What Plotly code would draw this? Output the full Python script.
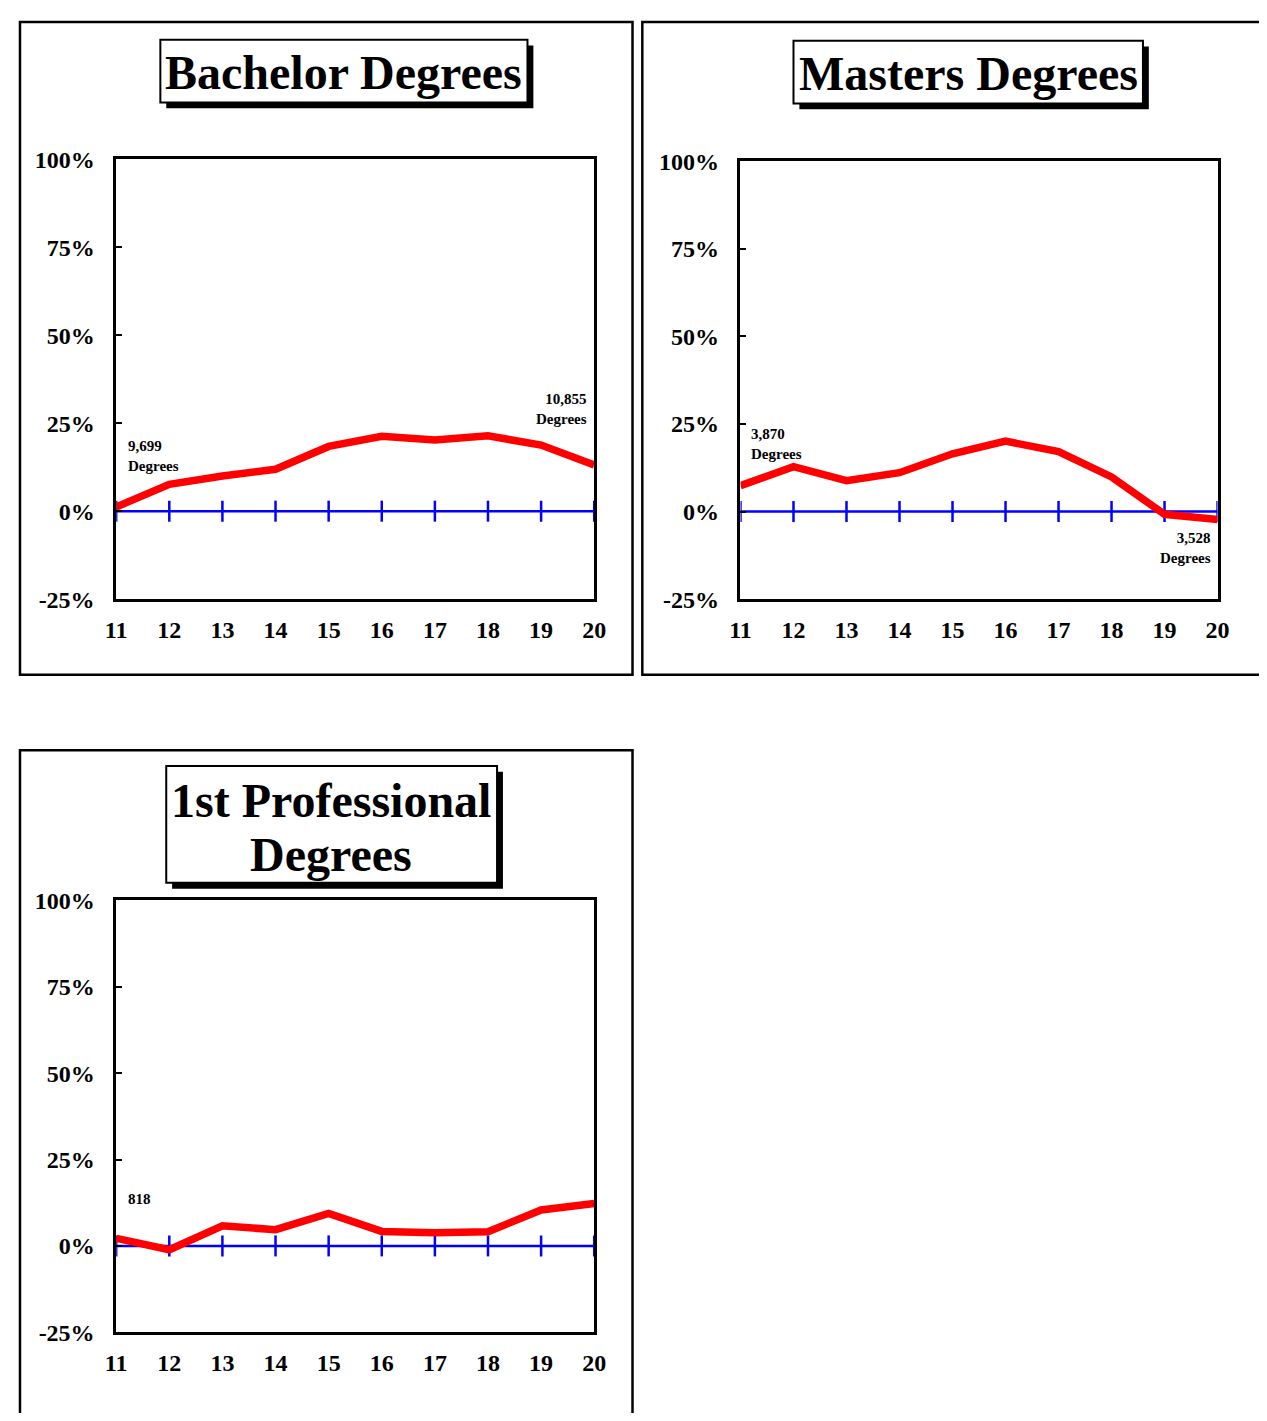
import plotly.graph_objects as go

# the page body has an 8px margin; the figure is shifted so positions match the window
PAGE_W, PAGE_H = 1267, 1421
OX, OY = 8, 8
W, H = PAGE_W - 2 * OX, PAGE_H - 2 * OY

years = [11, 12, 13, 14, 15, 16, 17, 18, 19, 20]
bachelor = [1.2, 7.6, 10.0, 11.9, 18.4, 21.3, 20.2, 21.4, 18.8, 13.1]
masters = [7.4, 12.8, 8.8, 11.1, 16.5, 20.1, 17.1, 9.9, -0.8, -2.3]
professional = [2.2, -1.1, 5.8, 4.7, 9.4, 4.2, 3.8, 4.1, 10.4, 12.3]
zero_line = [0] * len(years)

y_ticks = [-25, 0, 25, 50, 75, 100]
y_tick_labels = ["-25%", "0%", "25%", "50%", "75%", "100%"]

titles = ["Bachelor Degrees", "Masters Degrees", "1st Professional", "Degrees"]
notes = ["9,699<br>Degrees", "10,855<br>Degrees", "3,870<br>Degrees", "3,528<br>Degrees", "818"]

FONT = "Liberation Serif, Times New Roman, serif"
RED = "#FF0000"
BLUE = "#0000FF"


def px(x):
    return (x - OX) / W


def py(y):
    return 1 - (y - OY) / H


fig = go.Figure()

series = [bachelor, masters, professional]
for i, vals in enumerate(series):
    suffix = "" if i == 0 else str(i + 1)
    fig.add_trace(go.Scatter(
        x=years, y=zero_line, mode="lines+markers",
        line=dict(color=BLUE, width=2.5),
        marker=dict(symbol="line-ns", size=15, line=dict(color=BLUE, width=2.5)),
        xaxis="x" + suffix, yaxis="y" + suffix, hoverinfo="skip",
    ))
    fig.add_trace(go.Scatter(
        x=years, y=vals, mode="lines",
        line=dict(color=RED, width=7.5),
        xaxis="x" + suffix, yaxis="y" + suffix,
    ))

# plot area pixel boxes (left, top, right, bottom)
areas = [(107, 149, 594, 597), (743, 151, 1229, 597), (107, 904, 594, 1344)]

layout_axes = {}
for i, (l, t, r, b) in enumerate(areas):
    suffix = "" if i == 0 else str(i + 1)
    layout_axes["xaxis" + suffix] = dict(
        domain=[px(l), px(r)], anchor="y" + suffix, range=[11, 20],
        tickvals=years, ticktext=[str(v) for v in years],
        showline=True, mirror=True, linecolor="black", linewidth=2.5,
        showgrid=False, zeroline=False, ticks="",
        ticklabelstandoff=7,
        tickfont=dict(family=FONT, size=24, color="black", weight="bold"),
    )
    layout_axes["yaxis" + suffix] = dict(
        domain=[py(b), py(t)], anchor="x" + suffix, range=[-25, 100],
        tickvals=y_ticks, ticktext=y_tick_labels,
        showline=True, mirror=True, linecolor="black", linewidth=2.5,
        showgrid=False, zeroline=False, ticks="inside", ticklen=6,
        tickwidth=2, tickcolor="black", ticklabelstandoff=14,
        tickfont=dict(family=FONT, size=24, color="black", weight="bold"),
    )

shapes = []
# outer panel frames
for (x0, y0, x1, y1) in [(9, 9, 633, 674), (643, 9, 1290, 674), (9, 751, 633, 1440)]:
    shapes.append(dict(type="rect", xref="paper", yref="paper",
                       x0=px(x0), x1=px(x1), y0=py(y1), y1=py(y0),
                       line=dict(color="black", width=2.5), fillcolor="rgba(0,0,0,0)",
                       layer="below"))
# title boxes with drop shadow
title_boxes = [(152, 27, 526, 91), (797, 28, 1153, 92), (158, 767, 495, 886)]
for (x0, y0, x1, y1) in title_boxes:
    shapes.append(dict(type="rect", xref="paper", yref="paper",
                       x0=px(x0 + 6), x1=px(x1 + 6), y0=py(y1 + 6), y1=py(y0 + 6),
                       line=dict(width=0), fillcolor="black"))
    shapes.append(dict(type="rect", xref="paper", yref="paper",
                       x0=px(x0), x1=px(x1), y0=py(y1), y1=py(y0),
                       line=dict(color="black", width=2), fillcolor="white"))

annotations = []
title_pos = [(339, 60), (975, 61), (326, 802), (326, 857)]
for text, (x, y) in zip(titles, title_pos):
    annotations.append(dict(text=text, xref="paper", yref="paper", x=px(x), y=py(y),
                            xanchor="center", yanchor="middle", showarrow=False,
                            font=dict(family=FONT, size=48, color="black", weight="bold")))

note_pos = [(117, 451, "left"), (589, 403, "right"), (752, 439, "left"),
            (1224, 545, "right"), (117, 1208, "left")]
for text, (x, y, al) in zip(notes, note_pos):
    annotations.append(dict(text=text, xref="paper", yref="paper", x=px(x), y=py(y),
                            xanchor=al, yanchor="middle", align=al, showarrow=False,
                            font=dict(family=FONT, size=15, color="black", weight="bold")))

fig.update_layout(
    width=W, height=H, margin=dict(l=0, r=0, t=0, b=0),
    paper_bgcolor="white", plot_bgcolor="white", showlegend=False,
    shapes=shapes, annotations=annotations, **layout_axes,
)

fig.write_html("out.html")
